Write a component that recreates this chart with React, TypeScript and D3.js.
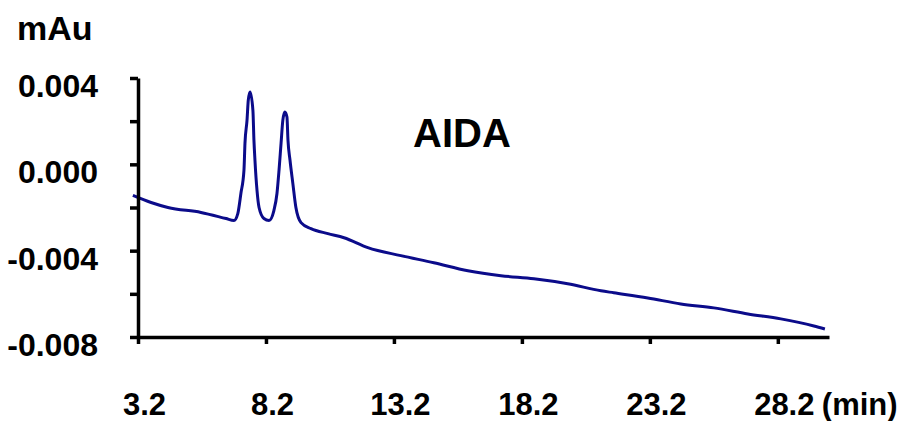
import React, { useEffect, useRef } from "react";
import * as d3 from "d3";

// retention time (min) and absorbance
const times = [
  3.0, 3.71, 4.37, 5.66, 6.64, 6.95, 7.1, 7.22, 7.34, 7.38, 7.46, 7.51, 7.58,
  7.69, 7.73, 7.77, 7.85, 7.93, 8.12, 8.32, 8.51, 8.63, 8.71, 8.79, 8.86, 8.94,
  9.02, 9.06, 9.14, 9.25, 9.37, 9.57, 9.96, 10.62, 11.25, 12.18, 13.47, 14.76,
  16.09, 17.38, 18.67, 19.99, 21.29, 21.79, 23.12, 24.41, 25.7, 27.03, 28.32,
  29.61, 30.04,
];
const absorbance = [
  -0.00144, -0.00177, -0.002, -0.00223, -0.00251, -0.0026, -0.00228, -0.00135,
  -0.00028, 0.00098, 0.00205, 0.00298, 0.00335, 0.0025, 0.00112, 0.00019,
  -0.00121, -0.002, -0.00251, -0.0026, -0.00214, -0.00135, -0.00028, 0.00098,
  0.00205, 0.00242, 0.00219, 0.00112, 0.00019, -0.00088, -0.002, -0.0027,
  -0.00298, -0.00321, -0.0034, -0.00386, -0.00423, -0.00456, -0.00493,
  -0.00516, -0.0053, -0.00553, -0.00586, -0.00595, -0.00619, -0.00647,
  -0.00665, -0.00693, -0.00716, -0.00749, -0.00763,
];

const xTicks = [3.2, 8.2, 13.2, 18.2, 23.2, 28.2];
const xTickLabels = ["3.2", "8.2", "13.2", "18.2", "23.2", "28.2"];
const yTicks = [-0.008, -0.006, -0.004, -0.002, 0, 0.002, 0.004];
const yTickLabels = ["-0.008", "", "-0.004", "", "0.000", "", "0.004"];

const W = 905;
const H = 421;
const FONT = "'Liberation Sans', Arial, sans-serif";

const App = () => {
  const svgRef = useRef<SVGSVGElement>(null);

  useEffect(() => {
    const svg = d3.select(svgRef.current);
    svg.selectAll("*").remove();

    const x = d3.scaleLinear().domain([3.2, 30.2]).range([138, 829]);
    const y = d3.scaleLinear().domain([-0.008, 0.004]).range([337, 78]);

    const data = times.map((t, i) => ({ t, v: absorbance[i] }));

    // trace
    const line = d3
      .line<{ t: number; v: number }>()
      .x((d) => x(d.t))
      .y((d) => y(d.v))
      .curve(d3.curveMonotoneX);

    svg
      .append("path")
      .datum(data)
      .attr("fill", "none")
      .attr("stroke", "#0b0b8a")
      .attr("stroke-width", 3)
      .attr("stroke-linejoin", "round")
      .attr("d", line);

    // y axis
    const yAxis = svg
      .append("g")
      .attr("transform", `translate(${x(3.2)},0)`)
      .call(
        d3
          .axisLeft(y)
          .tickValues(yTicks)
          .tickSize(8)
          .tickSizeOuter(0)
          .tickFormat((d, i) => yTickLabels[i])
      );
    yAxis.select(".domain").attr("stroke", "#000").attr("stroke-width", 3.5);
    yAxis.selectAll("line").attr("stroke", "#000").attr("stroke-width", 3.5);
    yAxis
      .selectAll("text")
      .attr("x", -40)
      .attr("dy", "0.58em")
      .attr("fill", "#000")
      .attr("font-family", FONT)
      .attr("font-weight", "bold")
      .attr("font-size", 32);

    // x axis
    const xAxis = svg
      .append("g")
      .attr("transform", `translate(0,${y(-0.008)})`)
      .call(
        d3
          .axisBottom(x)
          .tickValues(xTicks)
          .tickSize(7)
          .tickSizeOuter(0)
          .tickFormat((d, i) => xTickLabels[i])
      );
    xAxis.select(".domain").attr("stroke", "#000").attr("stroke-width", 3.5);
    xAxis.selectAll("line").attr("stroke", "#000").attr("stroke-width", 3.5);
    xAxis
      .selectAll("text")
      .attr("y", 78)
      .attr("dy", 0)
      .attr("dx", 6)
      .attr("fill", "#000")
      .attr("font-family", FONT)
      .attr("font-weight", "bold")
      .attr("font-size", 31);

    svg
      .append("text")
      .attr("x", x(28.2) + 44)
      .attr("y", y(-0.008) + 78)
      .attr("font-family", FONT)
      .attr("font-weight", "bold")
      .attr("font-size", 31)
      .text("(min)");

    svg
      .append("text")
      .attr("x", 17)
      .attr("y", 40)
      .attr("font-family", FONT)
      .attr("font-weight", "bold")
      .attr("font-size", 34)
      .text("mAu");

    svg
      .append("text")
      .attr("x", 413)
      .attr("y", 147)
      .attr("font-family", FONT)
      .attr("font-weight", "bold")
      .attr("font-size", 40)
      .text("AIDA");
  }, []);

  return (
    <svg
      ref={svgRef}
      width={W}
      height={H}
      style={{ position: "absolute", left: 0, top: 0, background: "#fff" }}
    />
  );
};

export default App;
